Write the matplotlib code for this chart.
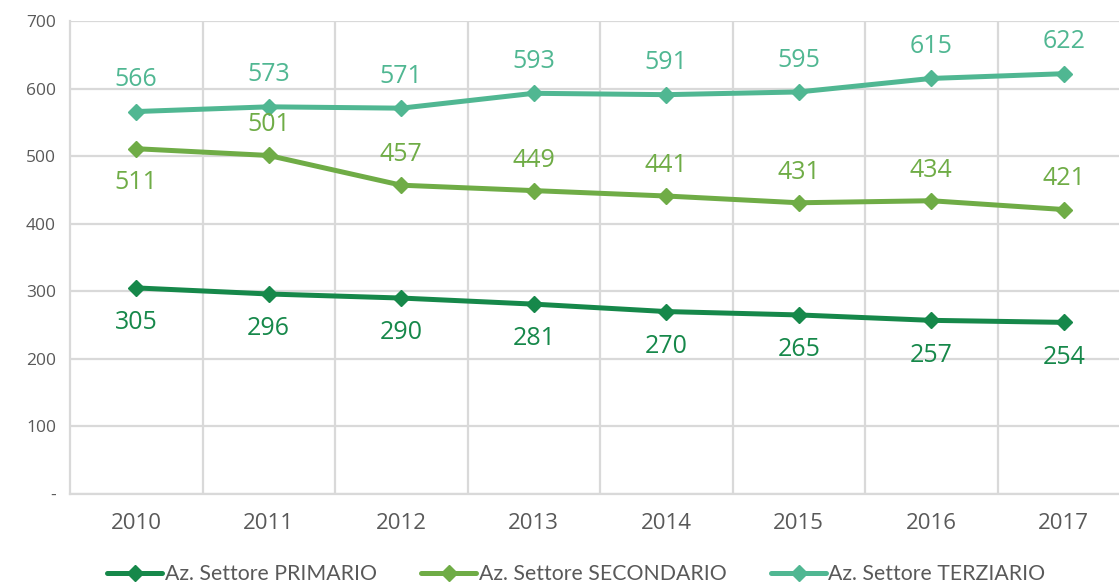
import matplotlib.pyplot as plt
import numpy as np

anni = ["2010", "2011", "2012", "2013", "2014", "2015", "2016", "2017"]
primario = [305, 296, 290, 281, 270, 265, 257, 254]
secondario = [511, 501, 457, 449, 441, 431, 434, 421]
terziario = [566, 573, 571, 593, 591, 595, 615, 622]
yticks = [0, 100, 200, 300, 400, 500, 600, 700]
ytick_labels = ["-", "100", "200", "300", "400", "500", "600", "700"]

c_prim = "#16884a"
c_sec = "#6fac46"
c_ter = "#50b792"
grid_c = "#d9d9d9"
txt_c = "#595959"

fig = plt.figure(figsize=(11.19, 5.83), dpi=100)
ax = fig.add_axes([70 / 1119, 89 / 583, 1060 / 1119, 473 / 583])

x = np.arange(len(anni))
serie = [
    (primario, c_prim, "Az. Settore PRIMARIO"),
    (secondario, c_sec, "Az. Settore SECONDARIO"),
    (terziario, c_ter, "Az. Settore TERZIARIO"),
]
for vals, col, lab in serie:
    ax.plot(x, vals, color=col, lw=3.6, marker="D", ms=8, label=lab,
            solid_capstyle="round")

lab_font = dict(fontsize=18, family="Open Sans", ha="center", va="center")
for i, v in enumerate(terziario):
    ax.annotate(str(v), (i, v), xytext=(0, 23), textcoords="offset points",
                color=c_ter, **lab_font)
for i, v in enumerate(secondario):
    dy = -24 if i == 0 else 22
    ax.annotate(str(v), (i, v), xytext=(0, dy), textcoords="offset points",
                color=c_sec, **lab_font)
for i, v in enumerate(primario):
    ax.annotate(str(v), (i, v), xytext=(0, -25), textcoords="offset points",
                color=c_prim, **lab_font)

ax.set_xlim(-0.5, 7.5)
ax.set_ylim(0, 700)
ax.set_yticks(yticks)
ax.set_yticklabels(ytick_labels, fontsize=12.5, color=txt_c, family="Open Sans")
ax.set_xticks(x)
ax.set_xticklabels(anni, fontsize=16, color=txt_c, family="Open Sans")
ax.set_xticks(np.arange(0.5, 7.5, 1), minor=True)
ax.tick_params(axis="both", which="both", length=0)
ax.tick_params(axis="x", pad=14)
ax.tick_params(axis="y", pad=10)

ax.grid(axis="y", which="major", color=grid_c, lw=1.6)
ax.grid(axis="x", which="minor", color=grid_c, lw=1.6)
ax.set_axisbelow(True)
for s in ["top", "right"]:
    ax.spines[s].set_visible(False)
for s in ["left", "bottom"]:
    ax.spines[s].set_color(grid_c)
    ax.spines[s].set_linewidth(1.6)

fig.legend(loc="center", bbox_to_anchor=(0.515, 0.015), ncol=3,
           frameon=False, handlelength=2.6, handletextpad=0.1,
           columnspacing=2.1, prop={"family": "Lato", "size": 15.3},
           labelcolor=txt_c)

fig.savefig("out.png", dpi=100)
